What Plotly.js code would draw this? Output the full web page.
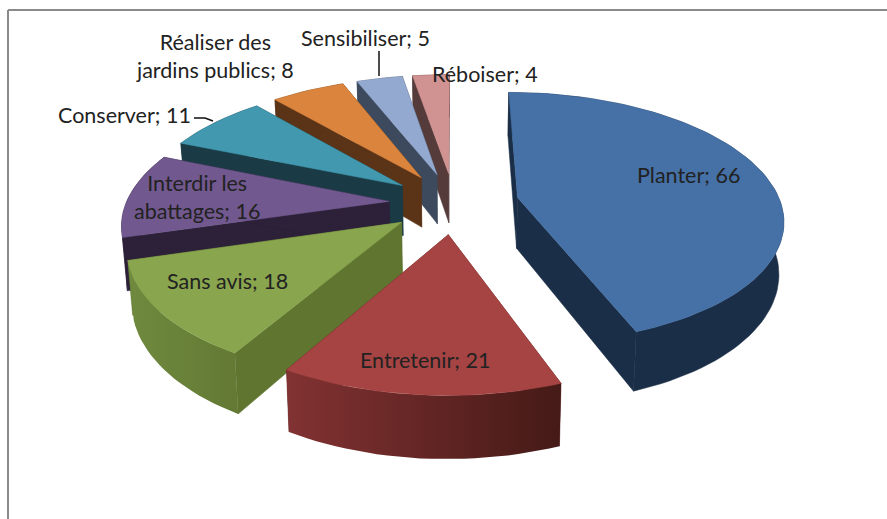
<!DOCTYPE html>
<html><head><meta charset="utf-8">
<script src="https://cdn.plot.ly/plotly-3.0.1.min.js"></script>
<style>html,body{margin:0;padding:0;background:#fff}#c{width:887px;height:519px}</style>
</head><body><div id="c"></div>
<script>
const categories = ["Planter","Entretenir","Sans avis","Interdir les abattages","Conserver","Réaliser des jardins publics","Sensibiliser","Réboiser"];
const values = [66,21,18,16,11,8,5,4];
const labelTexts = ["Planter; 66","Entretenir; 21","Sans avis; 18","Interdir les<br>abattages; 16","Conserver; 11","Réaliser des<br>jardins publics; 8","Sensibiliser; 5","Réboiser; 4"];
const labelX = [688,425,227,197,124,215,365,485];
const labelY = [175,360,281,197,115,56,38,74];
const topColors = ["#4571A7","#A54442","#89A54E","#71588F","#4198AF","#DB843D","#93A9CF","#D19392"];
const wallColors = ["#1B2E47","#5A2220","#5F7530","#2C2138","#1A3A45","#5B3418","#3D4A5E","#553B3A"];
const arcGradients = {1:["#823232","#451A17"],2:["#6F8A3E","#637934"]};

const CX=454, CY=203, R=263, K=0.47, P=0.16, EX=65, DEPTH=51, SHRINK=0.985;
const total = values.reduce((a,b)=>a+b,0);
const rad = d=>d*Math.PI/180;

function project(X,Y,down){
  const s = 1/(1-P*Y/R);
  let x = CX+X*s, y = CY+K*Y*s;
  if(down){ x = CX+(x-CX)*SHRINK; y += DEPTH*s; }
  return [x,y];
}
const traces=[];
function poly(pts,color,grad){
  const t={type:'scatter',mode:'lines',x:pts.map(p=>p[0]),y:pts.map(p=>p[1]),fill:'toself',fillcolor:color,
    line:{width:0.5,color:color},hoverinfo:'skip',showlegend:false};
  if(grad){ t.fillgradient={type:'horizontal',colorscale:[[0,grad[0]],[1,grad[1]]]}; t.line.width=0; }
  traces.push(t);
}
let cum=0; const slices=values.map((v,i)=>{const a0=cum/total*360; cum+=v; return {i,a0,a1:cum/total*360};});
const order=[7,6,5,4,3,0,2,1];
order.forEach(i=>{
  const {a0,a1}=slices[i], mid=rad((a0+a1)/2);
  const ox=EX*Math.sin(mid), oy=-EX*Math.cos(mid);
  const n=Math.max(6,Math.ceil((a1-a0)/2));
  const arc=[]; for(let j=0;j<=n;j++){const t=rad(a0+(a1-a0)*j/n); arc.push([ox+R*Math.sin(t),oy-R*Math.cos(t)]);}
  const top=arc.map(p=>project(p[0],p[1],false)), bot=arc.map(p=>project(p[0],p[1],true));
  const aT=project(ox,oy,false), aB=project(ox,oy,true);
  poly([aT,top[0],bot[0],aB,aT],wallColors[i]);
  poly([aT,top[n],bot[n],aB,aT],wallColors[i]);
  poly(top.concat(bot.slice().reverse()).concat([top[0]]),wallColors[i],arcGradients[i]);
  poly([aT].concat(top).concat([aT]),topColors[i]);
});

const annotations=labelTexts.map((t,i)=>({x:labelX[i],y:labelY[i],xref:'x',yref:'y',xanchor:'center',yanchor:'middle',showarrow:false,align:'center',
  text:t,font:{family:'Lato, Carlito, sans-serif',size:21.5,color:'#222'}}));

const layout={width:887,height:519,margin:{l:0,r:0,t:0,b:0},paper_bgcolor:'#fff',plot_bgcolor:'#fff',showlegend:false,
  xaxis:{range:[0,887],visible:false,fixedrange:true},
  yaxis:{range:[519,0],visible:false,fixedrange:true},
  annotations,
  shapes:[
    {type:'line',xref:'x',yref:'y',x0:8,x1:8,y0:10,y1:519,line:{color:'#8a8a8a',width:2}},
    {type:'line',xref:'x',yref:'y',x0:8,x1:887,y0:10,y1:10,line:{color:'#8a8a8a',width:2}},
    {type:'path',xref:'x',yref:'y',path:'M194,118 L205,118 L213,121',line:{color:'#111',width:1.5}},
    {type:'line',xref:'x',yref:'y',x0:379,x1:379,y0:51,y1:76,line:{color:'#111',width:1.5}}
  ]};
Plotly.newPlot('c',traces,layout,{displayModeBar:false,staticPlot:true});
</script></body></html>
